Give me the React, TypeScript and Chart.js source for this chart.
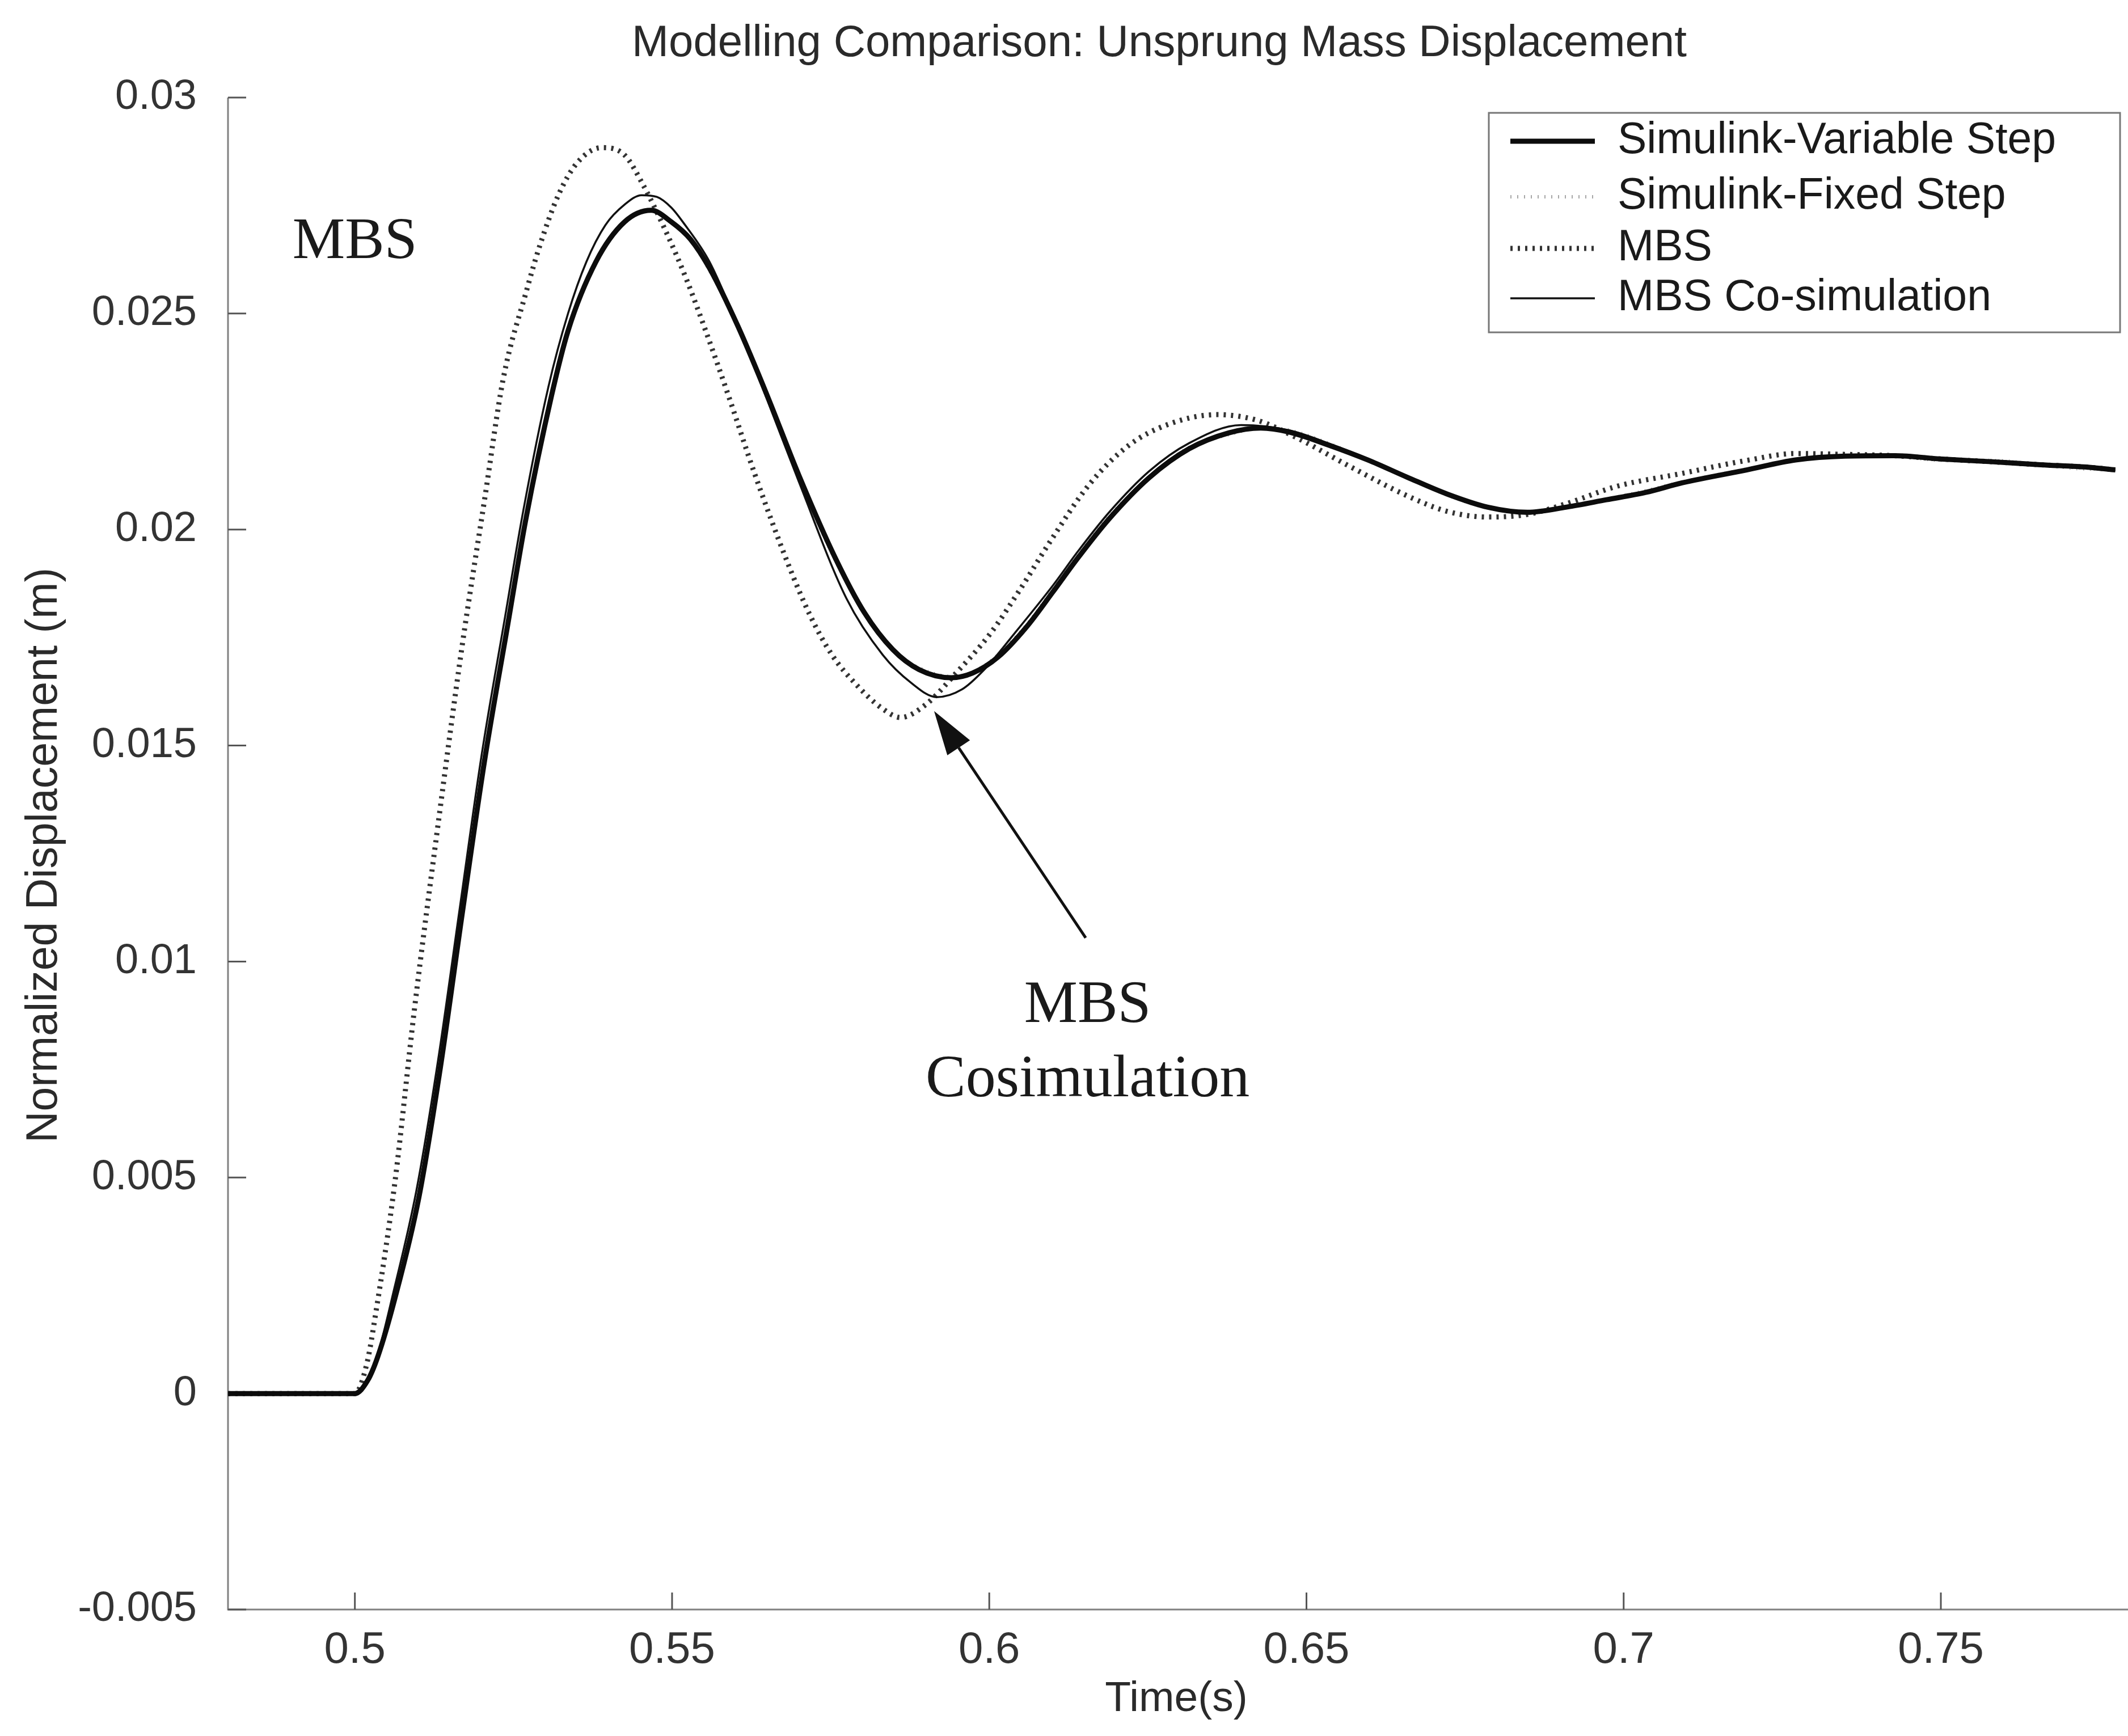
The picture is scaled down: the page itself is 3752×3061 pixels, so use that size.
import React, { useEffect, useRef } from 'react';
import { Chart, registerables } from 'chart.js';

Chart.register(...registerables);

const W = 3752;
const H = 3061;
const FONT = "'Liberation Sans', Arial, Helvetica, sans-serif";
const SERIF = "'Liberation Serif', 'Times New Roman', serif";

// ---------- tick values / labels ----------
const xTickValues = [0.5, 0.55, 0.6, 0.65, 0.7, 0.75];
const xTickLabels = ['0.5', '0.55', '0.6', '0.65', '0.7', '0.75'];
const yTickValues = [-0.005, 0, 0.005, 0.01, 0.015, 0.02, 0.025, 0.03];
const yTickLabels = ['-0.005', '0', '0.005', '0.01', '0.015', '0.02', '0.025', '0.03'];

// ---------- text ----------
const chartTitle = 'Modelling Comparison: Unsprung Mass Displacement';
const xAxisTitle = 'Time(s)';
const yAxisTitle = 'Normalized Displacement (m)';
const seriesNames = ['Simulink-Variable Step', 'Simulink-Fixed Step', 'MBS', 'MBS Co-simulation'];

// ---------- series: Simulink variable step ----------
const variableStepTime = [
  0.48, 0.5, 0.502, 0.5036, 0.5063, 0.5101, 0.5135, 0.5169, 0.5204, 0.5241, 0.5269, 0.531, 0.5336,
  0.538, 0.5425, 0.5467, 0.5499, 0.5529, 0.5559, 0.5604, 0.565, 0.57, 0.5757, 0.5803, 0.5848, 0.5889,
  0.594, 0.5974, 0.6014, 0.6059, 0.61, 0.614, 0.6189, 0.6252, 0.6315, 0.6378, 0.6428, 0.6472, 0.6534,
  0.6597, 0.6659, 0.6722, 0.6785, 0.6848, 0.691, 0.6973, 0.7035, 0.7092, 0.7194, 0.7271, 0.7349,
  0.7426, 0.7503, 0.758, 0.7657, 0.7734, 0.7775,
];
const variableStepDisp = [
  0, 0, 0.0003, 0.00085, 0.0022, 0.00455, 0.00757, 0.01109, 0.01461, 0.0178, 0.0202, 0.0231, 0.0246,
  0.0262, 0.02712, 0.02739, 0.02712, 0.02672, 0.02605, 0.0247, 0.0231, 0.02125, 0.01935, 0.01808, 0.01722, 0.01676,
  0.01657, 0.01668, 0.01705, 0.01775, 0.01855, 0.01935, 0.02025, 0.0212, 0.02187, 0.02224, 0.02235, 0.02226, 0.02196,
  0.02161, 0.02121, 0.02082, 0.02052, 0.0204, 0.02052, 0.02069, 0.02086, 0.02108, 0.02138, 0.02161, 0.0217,
  0.02171, 0.02163, 0.02157, 0.0215, 0.02144, 0.02138,
];

// ---------- series: Simulink fixed step (lies under the variable-step curve) ----------
const fixedStepTime = [
  0.48, 0.5, 0.5036, 0.5063, 0.5101, 0.5135, 0.5169, 0.5204, 0.5241, 0.5269, 0.531, 0.5336, 0.538,
  0.5425, 0.5467, 0.5499, 0.5529, 0.5559, 0.5604, 0.565, 0.57, 0.5757, 0.5803, 0.5848, 0.5889, 0.594,
  0.5974, 0.6014, 0.6059, 0.61, 0.614, 0.6189, 0.6252, 0.6315, 0.6378, 0.6428, 0.6472, 0.6534, 0.6597,
  0.6659, 0.6722, 0.6785, 0.6848, 0.691, 0.6973, 0.7035, 0.7092, 0.7194, 0.7271, 0.7349, 0.7426, 0.7503,
  0.758, 0.7657, 0.7734, 0.7775,
];
const fixedStepDisp = [
  0, 0, 0.0009, 0.0023, 0.0046, 0.0076, 0.0111, 0.0146, 0.0178, 0.0202, 0.0231, 0.0246, 0.0262,
  0.0271, 0.0274, 0.0271, 0.0267, 0.026, 0.0247, 0.0231, 0.0212, 0.0193, 0.0181, 0.0172, 0.0168, 0.0166,
  0.0167, 0.0171, 0.0178, 0.0186, 0.0194, 0.0203, 0.0212, 0.0219, 0.0222, 0.02235, 0.0223, 0.022, 0.0216,
  0.0212, 0.0208, 0.0205, 0.0204, 0.0205, 0.0207, 0.0209, 0.0211, 0.0214, 0.0216, 0.0217, 0.0217, 0.0216,
  0.0216, 0.0215, 0.0214, 0.0214,
];

// ---------- series: MBS ----------
const mbsTime = [
  0.48, 0.5, 0.5019, 0.5033, 0.5063, 0.5094, 0.5132, 0.5169, 0.5204, 0.5234, 0.527, 0.5291, 0.5321,
  0.5351, 0.5389, 0.5425, 0.5455, 0.5494, 0.5523, 0.5553, 0.559, 0.563, 0.5683, 0.5718, 0.5752, 0.5791,
  0.5832, 0.586, 0.59, 0.5946, 0.6002, 0.6048, 0.6095, 0.6158, 0.622, 0.6283, 0.6359, 0.6422, 0.6484,
  0.6566, 0.6659, 0.6722, 0.6785, 0.6848, 0.691, 0.6989, 0.7092, 0.7194, 0.7271, 0.7349, 0.7426, 0.7503,
  0.758, 0.7657, 0.7734, 0.7775,
];
const mbsDisp = [
  0, 0, 0.0007, 0.00187, 0.00488, 0.00891, 0.01327, 0.0173, 0.02065, 0.0235, 0.0255, 0.02655, 0.02775,
  0.0285, 0.02884, 0.02867, 0.02796, 0.02678, 0.02578, 0.0246, 0.02305, 0.0213, 0.0192, 0.018, 0.0171, 0.0164,
  0.01585, 0.01565, 0.01595, 0.01665, 0.0176, 0.0186, 0.0197, 0.02105, 0.02195, 0.02244, 0.02266, 0.02253, 0.02213,
  0.02148, 0.02078, 0.02042, 0.02029, 0.02035, 0.0206, 0.021, 0.0213, 0.0216, 0.02176, 0.02174, 0.02171, 0.02163,
  0.02157, 0.0215, 0.02144, 0.02138,
];

// ---------- series: MBS co-simulation ----------
const coSimTime = [
  0.48, 0.5, 0.502, 0.5036, 0.506, 0.5097, 0.5131, 0.5165, 0.52, 0.5237, 0.5265, 0.5305, 0.5336, 0.5365,
  0.5395, 0.5425, 0.5452, 0.5476, 0.5499, 0.5517, 0.5559, 0.5604, 0.565, 0.57, 0.5775, 0.5832, 0.5877,
  0.5917, 0.5957, 0.5991, 0.604, 0.61, 0.614, 0.6189, 0.6252, 0.6315, 0.6397, 0.6472, 0.6534, 0.6597,
  0.6659, 0.6722, 0.6785, 0.6848, 0.691, 0.6973, 0.7035, 0.7092, 0.7194, 0.7271, 0.7349, 0.7426, 0.7503,
  0.758, 0.7657, 0.7734, 0.7775,
];
const coSimDisp = [
  0, 0, 0.0003, 0.0009, 0.0023, 0.0047, 0.0077, 0.0112, 0.0148, 0.018, 0.0204, 0.0233, 0.025, 0.0262,
  0.02705, 0.02752, 0.02774, 0.0277, 0.02745, 0.02712, 0.0262, 0.0247, 0.023, 0.0211, 0.0184, 0.0171, 0.01645,
  0.01612, 0.0163, 0.01674, 0.0176, 0.0187, 0.0195, 0.0204, 0.02135, 0.022, 0.02242, 0.0223, 0.022, 0.02163,
  0.02122, 0.02082, 0.0205, 0.02037, 0.0205, 0.02068, 0.02086, 0.02108, 0.0214, 0.02163, 0.02172, 0.02172, 0.02164,
  0.02157, 0.0215, 0.02143, 0.02137,
];

// ---------- annotations (data units) ----------
const mbsLabelPos = { x: 0.5, y: 0.02664 };
const cosimLabelLines = ['MBS', 'Cosimulation'];
const cosimLabelPos = { x: 0.6155, y: [0.00897, 0.00725] };
const arrowTail = { x: 0.6152, y: 0.01055 };
const arrowTip = { x: 0.5913, y: 0.0158 };

const toPoints = (t: number[], v: number[]) => t.map((tt, i) => ({ x: tt, y: v[i] }));

const seriesStyles = [
  { color: '#0c0c0c', width: 9, dash: [] as number[] },
  { color: '#a8a8a8', width: 6, dash: [2, 10] },
  { color: '#333333', width: 9, dash: [4, 9] },
  { color: '#111111', width: 3.5, dash: [] as number[] },
];

const findLabel = (vals: number[], labels: string[], v: number) => {
  const i = vals.findIndex((t) => Math.abs(t - v) < 1e-9);
  return i >= 0 ? labels[i] : '';
};

const overlayPlugin = {
  id: 'overlay',
  beforeDraw(chart: any) {
    const { ctx } = chart;
    ctx.save();
    ctx.fillStyle = '#ffffff';
    ctx.fillRect(0, 0, chart.width, chart.height);
    ctx.restore();
  },
  beforeDatasetsDraw(chart: any) {
    const { ctx, chartArea: a, scales } = chart;
    const x = scales.x;
    const y = scales.y;
    ctx.save();
    ctx.strokeStyle = '#808080';
    ctx.lineWidth = 3;
    ctx.beginPath();
    ctx.moveTo(a.left, a.top);
    ctx.lineTo(a.left, a.bottom);
    ctx.lineTo(a.right, a.bottom);
    ctx.stroke();
    ctx.strokeStyle = '#555555';
    ctx.lineWidth = 3;
    ctx.beginPath();
    for (const v of yTickValues) {
      const py = y.getPixelForValue(v);
      ctx.moveTo(a.left, py);
      ctx.lineTo(a.left + 32, py);
    }
    for (const v of xTickValues) {
      const px = x.getPixelForValue(v);
      ctx.moveTo(px, a.bottom);
      ctx.lineTo(px, a.bottom - 30);
    }
    ctx.stroke();
    ctx.restore();
  },
  afterDraw(chart: any) {
    const { ctx, scales } = chart;
    const x = scales.x;
    const y = scales.y;
    ctx.save();

    // title
    ctx.fillStyle = '#2a2a2a';
    ctx.textAlign = 'center';
    ctx.textBaseline = 'middle';
    ctx.font = `78px ${FONT}`;
    ctx.fillText(chartTitle, 2044, 77);

    // x axis title
    ctx.font = `75px ${FONT}`;
    ctx.fillText(xAxisTitle, 2074, 2996);

    // y axis title
    ctx.save();
    ctx.translate(79, 1508);
    ctx.rotate(-Math.PI / 2);
    ctx.font = `77px ${FONT}`;
    ctx.fillText(yAxisTitle, 0, 0);
    ctx.restore();

    // annotations
    ctx.fillStyle = '#1a1a1a';
    ctx.font = `104px ${SERIF}`;
    ctx.fillText('MBS', x.getPixelForValue(mbsLabelPos.x), y.getPixelForValue(mbsLabelPos.y));
    ctx.font = `106px ${SERIF}`;
    cosimLabelLines.forEach((line, i) => {
      ctx.fillText(line, x.getPixelForValue(cosimLabelPos.x), y.getPixelForValue(cosimLabelPos.y[i]));
    });

    // arrow
    const tx = x.getPixelForValue(arrowTail.x);
    const ty = y.getPixelForValue(arrowTail.y);
    const hx = x.getPixelForValue(arrowTip.x);
    const hy = y.getPixelForValue(arrowTip.y);
    const ang = Math.atan2(hy - ty, hx - tx);
    const headLen = 78;
    const headHalf = 24;
    const bx = hx - headLen * Math.cos(ang);
    const by = hy - headLen * Math.sin(ang);
    ctx.strokeStyle = '#111111';
    ctx.lineWidth = 5;
    ctx.beginPath();
    ctx.moveTo(tx, ty);
    ctx.lineTo(bx, by);
    ctx.stroke();
    ctx.fillStyle = '#111111';
    ctx.beginPath();
    ctx.moveTo(hx, hy);
    ctx.lineTo(bx + headHalf * Math.sin(ang), by - headHalf * Math.cos(ang));
    ctx.lineTo(bx - headHalf * Math.sin(ang), by + headHalf * Math.cos(ang));
    ctx.closePath();
    ctx.fill();

    // legend
    const boxL = 2625;
    const boxT = 199;
    const boxW = 1113;
    const boxH = 387;
    ctx.fillStyle = '#ffffff';
    ctx.fillRect(boxL, boxT, boxW, boxH);
    ctx.strokeStyle = '#777777';
    ctx.lineWidth = 3;
    ctx.strokeRect(boxL, boxT, boxW, boxH);
    const rowY = [249, 347, 438, 526];
    ctx.textAlign = 'left';
    ctx.textBaseline = 'middle';
    ctx.font = `77px ${FONT}`;
    seriesNames.forEach((name, i) => {
      const st = seriesStyles[i];
      ctx.save();
      ctx.strokeStyle = st.color;
      ctx.lineWidth = st.width;
      ctx.setLineDash(st.dash);
      ctx.beginPath();
      ctx.moveTo(2663, rowY[i]);
      ctx.lineTo(2812, rowY[i]);
      ctx.stroke();
      ctx.restore();
      ctx.fillStyle = '#1a1a1a';
      ctx.fillText(name, 2852, rowY[i]);
    });

    ctx.restore();
  },
};

export default function App() {
  const ref = useRef<HTMLCanvasElement>(null);
  useEffect(() => {
    document.body.style.margin = '0';
    document.body.style.overflow = 'hidden';
    const canvas = ref.current;
    if (!canvas) return;
    const seriesData = [
      toPoints(variableStepTime, variableStepDisp),
      toPoints(fixedStepTime, fixedStepDisp),
      toPoints(mbsTime, mbsDisp),
      toPoints(coSimTime, coSimDisp),
    ];
    const drawOrder = [0, 3, 2, 1];
    const chart = new Chart(canvas, {
      type: 'line',
      data: {
        datasets: seriesNames.map((name, i) => ({
          label: name,
          data: seriesData[i],
          borderColor: seriesStyles[i].color,
          borderWidth: seriesStyles[i].width,
          borderDash: seriesStyles[i].dash,
          borderCapStyle: 'butt',
          pointRadius: 0,
          fill: false,
          cubicInterpolationMode: 'monotone',
          order: drawOrder[i],
        })),
      },
      options: {
        responsive: false,
        animation: false,
        devicePixelRatio: 1,
        layout: { padding: { top: 172, left: 0, right: 0, bottom: 0 } },
        plugins: {
          legend: { display: false },
          title: { display: false },
          tooltip: { enabled: false },
        },
        scales: {
          x: {
            type: 'linear',
            min: 0.48,
            max: 0.7795,
            grid: { display: false, drawTicks: false },
            border: { display: false },
            afterBuildTicks: (s: any) => {
              s.ticks = xTickValues.map((v) => ({ value: v }));
            },
            afterFit: (s: any) => {
              s.height = H - 2838;
            },
            ticks: {
              autoSkip: false,
              maxRotation: 0,
              padding: 26,
              color: '#333333',
              font: { family: FONT, size: 78 },
              callback: (v: any) => findLabel(xTickValues, xTickLabels, Number(v)),
            },
          },
          y: {
            type: 'linear',
            min: -0.005,
            max: 0.03,
            grid: { display: false, drawTicks: false },
            border: { display: false },
            afterBuildTicks: (s: any) => {
              s.ticks = yTickValues.map((v) => ({ value: v }));
            },
            afterFit: (s: any) => {
              s.width = 402;
            },
            ticks: {
              autoSkip: false,
              padding: 55,
              color: '#333333',
              font: { family: FONT, size: 74 },
              callback: (v: any) => findLabel(yTickValues, yTickLabels, Number(v)),
            },
          },
        },
      } as any,
      plugins: [overlayPlugin],
    } as any);
    return () => chart.destroy();
  }, []);
  return (
    <canvas
      ref={ref}
      width={W}
      height={H}
      style={{ display: 'block', width: `${W}px`, height: `${H}px` }}
    />
  );
}
